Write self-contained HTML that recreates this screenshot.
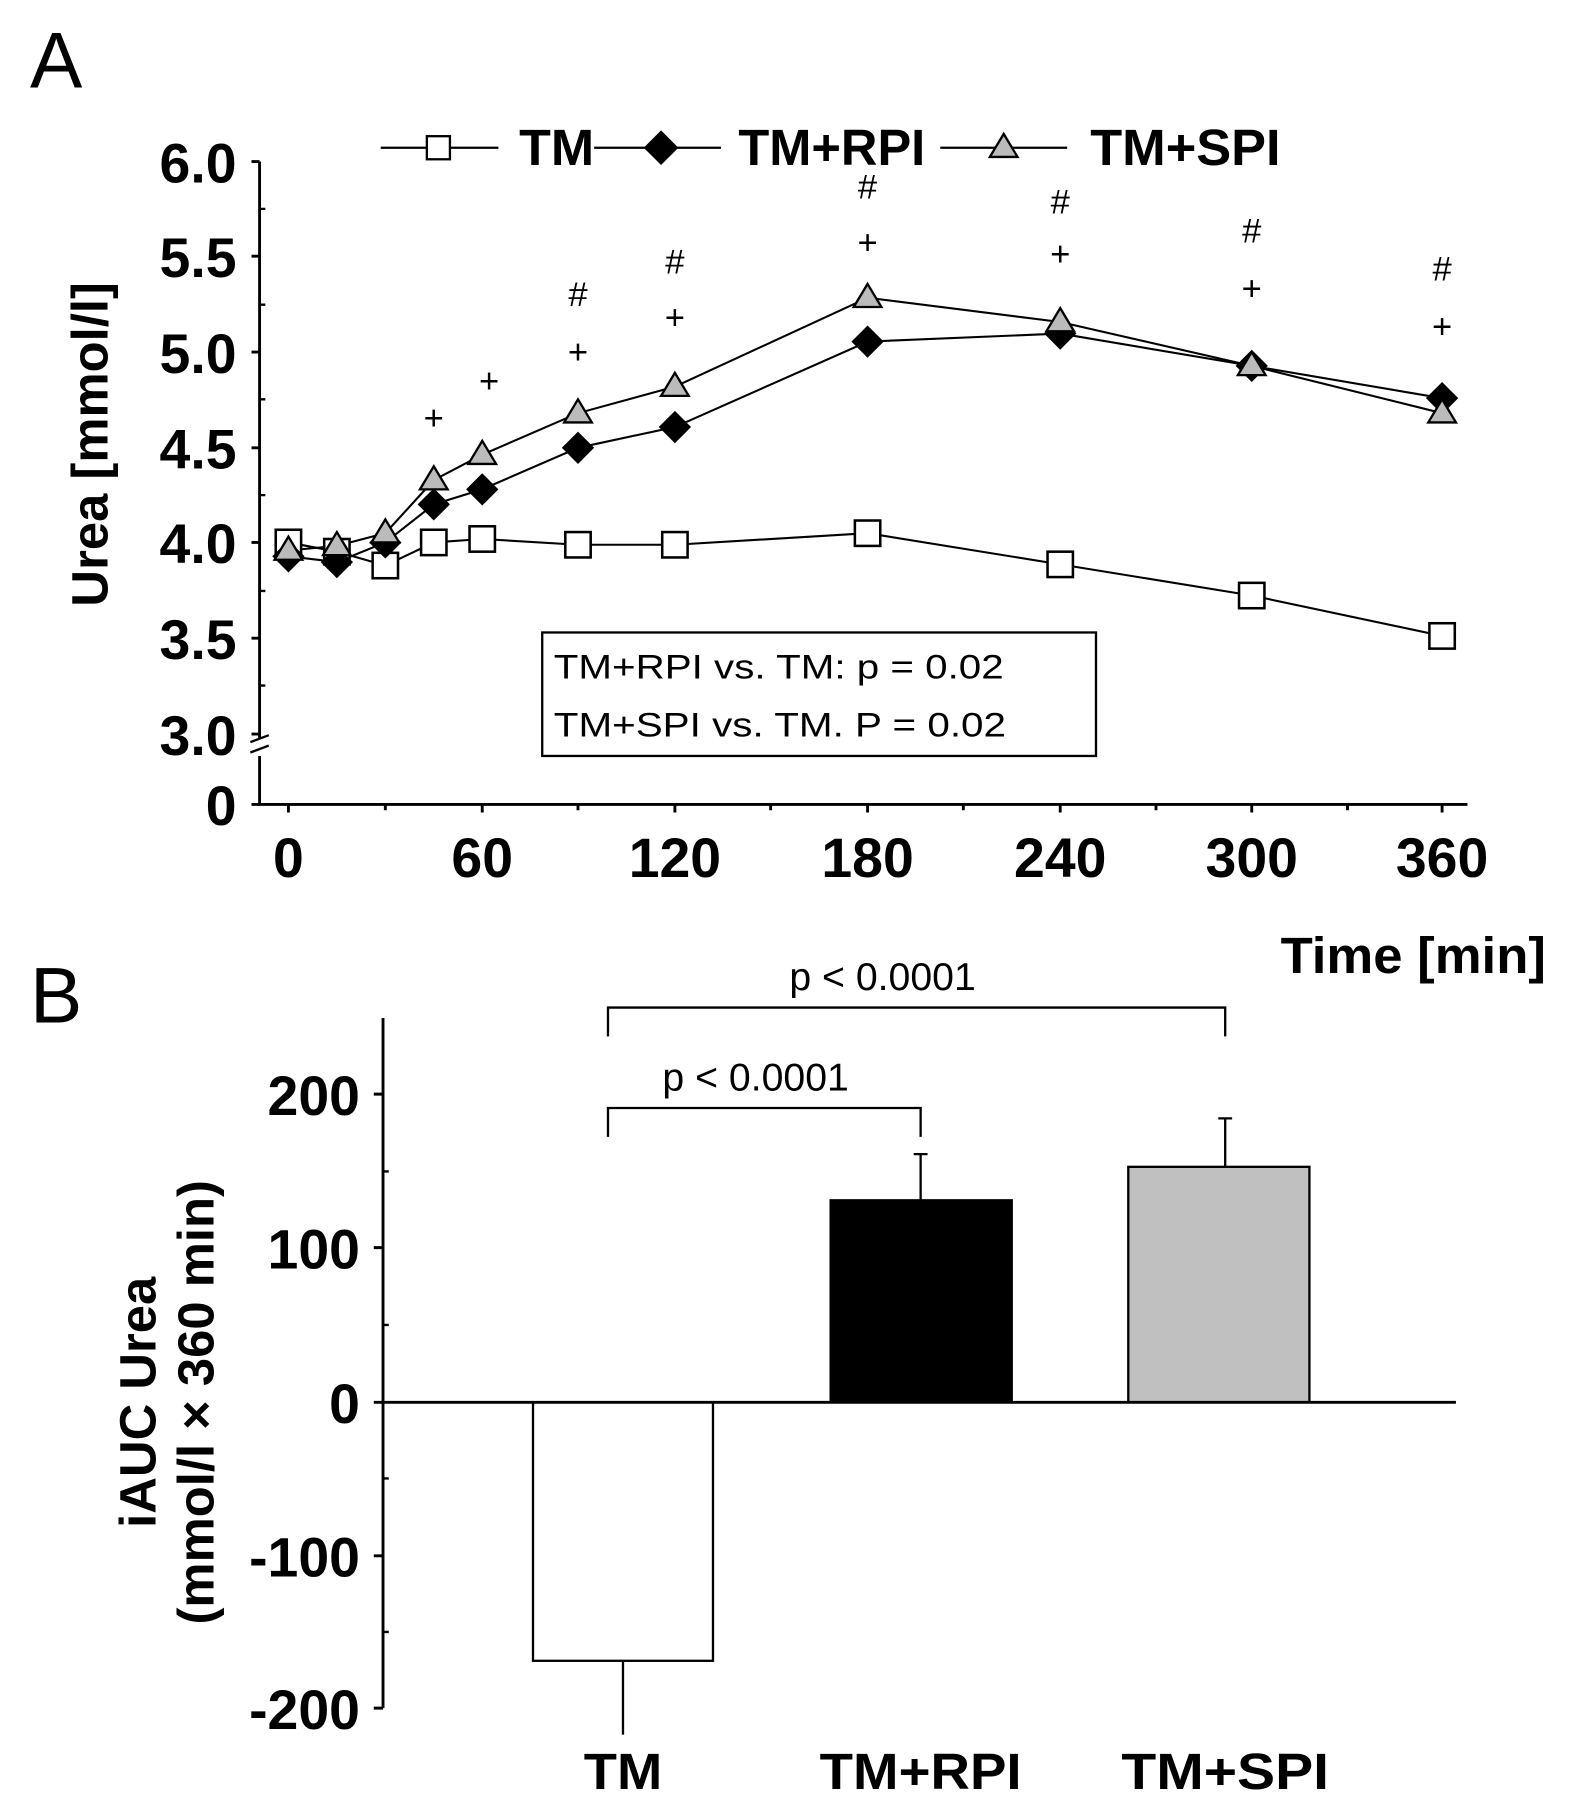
<!DOCTYPE html>
<html><head><meta charset="utf-8"><style>
html,body{margin:0;padding:0;background:#fff;}
svg{display:block;}
text{font-family:"Liberation Sans",Arial,sans-serif;fill:#000;}
.t{font-weight:bold;font-size:48px;}
.l{font-weight:bold;font-size:44px;}
</style></head><body>
<svg width="1569" height="1812" viewBox="0 0 1360 1570" preserveAspectRatio="none" xmlns="http://www.w3.org/2000/svg">
<rect width="1360" height="1570" fill="#fff"/>
<text x="26" y="76" font-size="68">A</text>
<!-- Panel A axes -->
<g stroke="#000" stroke-width="2.5" fill="none">
<path d="M225 140 V640 M225 655 V697 H1272"/>
<path d="M217 643 l16 -6 M217 652 l16 -6" stroke-width="2"/>
<path d="M218 140 H225 M218 222 H225 M218 305 H225 M218 388 H225 M218 470 H225 M218 553 H225 M218 636 H225 M218 697 H225"/>
<path d="M225 181 h5 M225 264 h5 M225 346 h5 M225 429 h5 M225 512 h5 M225 594 h5" stroke-width="2"/>
<path d="M250 697 v7 M418 697 v7 M585 697 v7 M752 697 v7 M919 697 v7 M1085 697 v7 M1250 697 v7 M334 697 v5 M501 697 v5 M668 697 v5 M835 697 v5 M1002 697 v5 M1168 697 v5"/>
</g>
<g class="t" text-anchor="end">
<text x="205" y="158" class="t">6.0</text>
<text x="205" y="240" class="t">5.5</text>
<text x="205" y="323" class="t">5.0</text>
<text x="205" y="406" class="t">4.5</text>
<text x="205" y="488" class="t">4.0</text>
<text x="205" y="571" class="t">3.5</text>
<text x="205" y="654" class="t">3.0</text>
<text x="205" y="715" class="t">0</text>
</g>
<g text-anchor="middle">
<text x="250" y="760" class="t">0</text>
<text x="418" y="760" class="t">60</text>
<text x="585" y="760" class="t">120</text>
<text x="752" y="760" class="t">180</text>
<text x="919" y="760" class="t">240</text>
<text x="1085" y="760" class="t">300</text>
<text x="1250" y="760" class="t">360</text>
</g>
<text class="l" transform="translate(93,385) rotate(-90)" text-anchor="middle">Urea [mmol/l]</text>
<text x="1110" y="843" class="l" textLength="230" lengthAdjust="spacingAndGlyphs">Time [min]</text>
<!-- legend -->
<g stroke="#000" stroke-width="2">
<line x1="330" y1="128" x2="432" y2="128"/>
<line x1="515" y1="128" x2="625" y2="128"/>
<line x1="815" y1="128" x2="925" y2="128"/>
</g>
<rect x="370" y="118" width="20" height="20" fill="#fff" stroke="#000" stroke-width="2"/>
<path d="M573 113 L588 128 L573 143 L558 128Z" fill="#000"/>
<path d="M870 116 L882 136 L858 136Z" fill="#bbb" stroke="#000" stroke-width="2"/>
<text x="450" y="143" class="l" textLength="65" lengthAdjust="spacingAndGlyphs">TM</text>
<text x="640" y="143" class="l" textLength="162" lengthAdjust="spacingAndGlyphs">TM+RPI</text>
<text x="945" y="143" class="l" textLength="165" lengthAdjust="spacingAndGlyphs">TM+SPI</text>
<!-- series -->
<g fill="none" stroke="#000" stroke-width="1.8">
<polyline points="250,470 292,478 334,490 376,470 418,467 501,472 585,472 752,462 919,489 1085,516 1250,551"/>
<polyline points="250,482 292,487 334,470 376,437 418,424 501,388 585,370 752,296 919,289 1085,317 1250,345"/>
<polyline points="250,477 292,473 334,462 376,416 418,394 501,358 585,335 752,258 919,279 1085,317 1250,358"/>
</g>
<g fill="#fff" stroke="#000" stroke-width="2.2">
<rect x="239" y="459" width="22" height="22"/><rect x="281" y="467" width="22" height="22"/><rect x="323" y="479" width="22" height="22"/><rect x="365" y="459" width="22" height="22"/><rect x="407" y="456" width="22" height="22"/><rect x="490" y="461" width="22" height="22"/><rect x="574" y="461" width="22" height="22"/><rect x="741" y="451" width="22" height="22"/><rect x="908" y="478" width="22" height="22"/><rect x="1074" y="505" width="22" height="22"/><rect x="1239" y="540" width="22" height="22"/>
</g>
<g fill="#000">
<path d="M250 468l14 14-14 14-14-14z"/><path d="M292 473l14 14-14 14-14-14z"/><path d="M334 456l14 14-14 14-14-14z"/><path d="M376 423l14 14-14 14-14-14z"/><path d="M418 410l14 14-14 14-14-14z"/><path d="M501 374l14 14-14 14-14-14z"/><path d="M585 356l14 14-14 14-14-14z"/><path d="M752 282l14 14-14 14-14-14z"/><path d="M919 275l14 14-14 14-14-14z"/><path d="M1085 303l14 14-14 14-14-14z"/><path d="M1250 331l14 14-14 14-14-14z"/>
</g>
<g fill="#bbb" stroke="#000" stroke-width="2">
<path d="M250 465l12 20h-24z"/><path d="M292 461l12 20h-24z"/><path d="M334 450l12 20h-24z"/><path d="M376 404l12 20h-24z"/><path d="M418 382l12 20h-24z"/><path d="M501 346l12 20h-24z"/><path d="M585 323l12 20h-24z"/><path d="M752 246l12 20h-24z"/><path d="M919 267l12 20h-24z"/><path d="M1085 305l12 20h-24z"/><path d="M1250 346l12 20h-24z"/>
</g>
<g font-size="30" text-anchor="middle">
<text x="376" y="372">+</text><text x="424" y="340">+</text>
<text x="501" y="315">+</text><text x="501" y="265">#</text>
<text x="585" y="285">+</text><text x="585" y="237">#</text>
<text x="752" y="220">+</text><text x="752" y="172">#</text>
<text x="919" y="230">+</text><text x="919" y="185">#</text>
<text x="1085" y="260">+</text><text x="1085" y="210">#</text>
<text x="1250" y="293">+</text><text x="1250" y="243">#</text>
</g>
<rect x="470" y="548" width="480" height="107" fill="#fff" stroke="#000" stroke-width="2"/>
<text x="480" y="588" font-size="30" textLength="390" lengthAdjust="spacingAndGlyphs">TM+RPI vs. TM: p = 0.02</text>
<text x="480" y="638" font-size="30" textLength="392" lengthAdjust="spacingAndGlyphs">TM+SPI vs. TM. P = 0.02</text>
<!-- Panel B -->
<text x="26" y="886" font-size="68">B</text>
<g stroke="#000" stroke-width="2.5" fill="none">
<path d="M332 882 V1480"/>
<path d="M324 948 H332 M324 1081 H332 M324 1215 H332 M324 1348 H332 M324 1480 H332"/>
<path d="M332 1015 h5 M332 1148 h5 M332 1281 h5 M332 1414 h5" stroke-width="2"/>
</g>
<rect x="462" y="1215" width="156" height="224" fill="#fff" stroke="#000" stroke-width="2"/>
<rect x="720" y="1040" width="157" height="175" fill="#000" stroke="#000" stroke-width="2"/>
<rect x="978" y="1011" width="157" height="204" fill="#c0c0c0" stroke="#000" stroke-width="2"/>
<g stroke="#000" stroke-width="2" fill="none">
<path d="M540 1439 V1503 M798 1040 V1000 M792 1000 h12 M1062 1011 V969 M1056 969 h12"/>
<path d="M527 898 V873 H1062 V898"/>
<path d="M527 985 V960 H798 V985"/>
</g>
<line x1="332" y1="1215" x2="1262" y2="1215" stroke="#000" stroke-width="2.5"/>
<g text-anchor="end">
<text x="312" y="966" class="t">200</text>
<text x="312" y="1099" class="t">100</text>
<text x="312" y="1233" class="t">0</text>
<text x="312" y="1366" class="t">-100</text>
<text x="312" y="1498" class="t">-200</text>
</g>
<text x="765" y="858" font-size="34" text-anchor="middle">p &lt; 0.0001</text>
<text x="655" y="945" font-size="34" text-anchor="middle">p &lt; 0.0001</text>
<g text-anchor="middle">
<text x="540" y="1550" class="l" textLength="68" lengthAdjust="spacingAndGlyphs">TM</text>
<text x="798" y="1550" class="l" textLength="175" lengthAdjust="spacingAndGlyphs">TM+RPI</text>
<text x="1062" y="1550" class="l" textLength="180" lengthAdjust="spacingAndGlyphs">TM+SPI</text>
</g>
<text class="l" transform="translate(135,1215) rotate(-90)" text-anchor="middle">iAUC Urea</text>
<text class="l" transform="translate(185,1215) rotate(-90)" text-anchor="middle">(mmol/l × 360 min)</text>
</svg>
</body></html>
